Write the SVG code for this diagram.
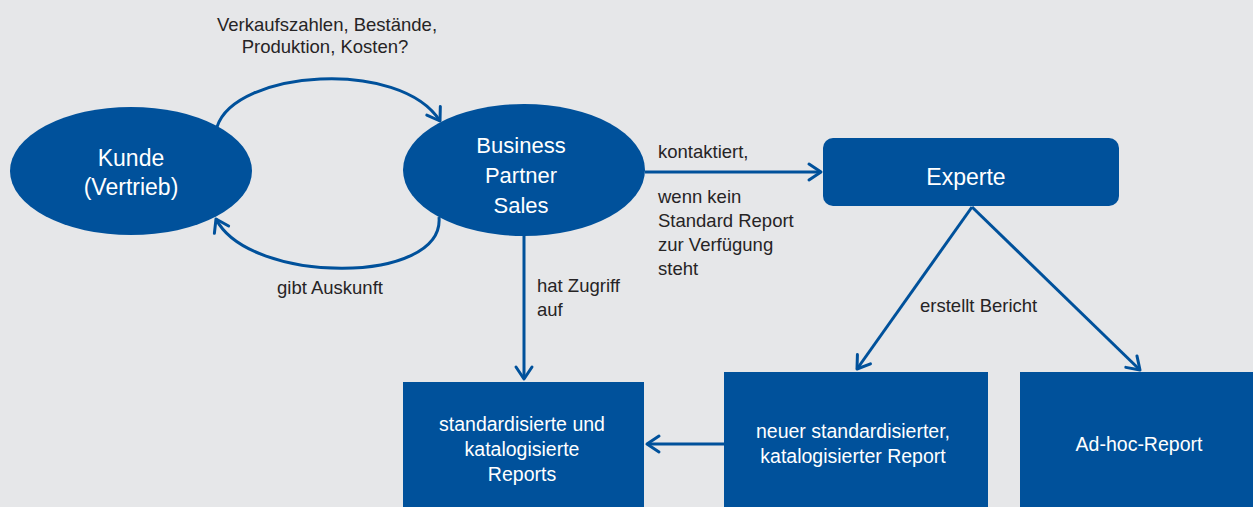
<svg xmlns="http://www.w3.org/2000/svg" width="1253" height="507" viewBox="0 0 1253 507">
  <style>
    .shape { fill: #00519b; }
    .wt { fill: #ffffff; font-family: "Liberation Sans", Arial, sans-serif; text-anchor: middle; }
    .lbl { fill: #262425; font-family: "Liberation Sans", Arial, sans-serif; font-size: 18.5px; }
    .conn { fill: none; stroke: #00519b; stroke-width: 3; }
  </style>
  <defs>
    <marker id="arrow" markerUnits="userSpaceOnUse" markerWidth="30" markerHeight="30" viewBox="-15 -15 30 30" refX="0" refY="0" orient="auto">
      <path d="M-12,-8 L0,0 L-12,8" fill="none" stroke="#00519b" stroke-width="3" stroke-linecap="round" stroke-linejoin="round"/>
    </marker>
  </defs>

  <rect width="1253" height="507" fill="#e6e7e9"/>

  <!-- connectors -->
  <g id="connectors">
    <path class="conn" d="M217,127 C235,70 400,58 440,121" marker-end="url(#arrow)"/>
    <path class="conn" d="M439,217 C445,285 250,285 216,219" marker-end="url(#arrow)"/>
    <path class="conn" d="M645,172 L821,172" marker-end="url(#arrow)"/>
    <path class="conn" d="M524,235 L524,379" marker-end="url(#arrow)"/>
    <path class="conn" d="M972,207 L857,369" marker-end="url(#arrow)"/>
    <path class="conn" d="M972,207 L1140,370" marker-end="url(#arrow)"/>
    <path class="conn" d="M725,444 L647,444" marker-end="url(#arrow)"/>
  </g>

  <!-- connector labels -->
  <g id="labels">
    <text class="lbl" x="327" y="31" text-anchor="middle">Verkaufszahlen, Bestände,</text>
    <text class="lbl" x="325" y="53" text-anchor="middle">Produktion, Kosten?</text>
    <text class="lbl" x="277" y="294">gibt Auskunft</text>
    <text class="lbl" x="658" y="158">kontaktiert,</text>
    <text class="lbl" x="658" y="203">wenn kein</text>
    <text class="lbl" x="658" y="227">Standard Report</text>
    <text class="lbl" x="658" y="251">zur Verfügung</text>
    <text class="lbl" x="658" y="275">steht</text>
    <text class="lbl" x="537" y="292">hat Zugriff</text>
    <text class="lbl" x="537" y="316">auf</text>
    <text class="lbl" x="920" y="312">erstellt Bericht</text>
  </g>

  <g id="kunde">
    <ellipse class="shape" cx="131" cy="171" rx="121" ry="64"/>
    <text class="wt" x="131" y="166" font-size="23">Kunde</text>
    <text class="wt" x="131" y="195" font-size="23">(Vertrieb)</text>
  </g>

  <g id="business-partner">
    <ellipse class="shape" cx="524" cy="170" rx="121" ry="66"/>
    <text class="wt" x="521" y="153" font-size="22">Business</text>
    <text class="wt" x="521" y="183" font-size="22">Partner</text>
    <text class="wt" x="521" y="213" font-size="22">Sales</text>
  </g>

  <g id="experte">
    <rect class="shape" x="823" y="138" width="296" height="68" rx="10"/>
    <text class="wt" x="966" y="185" font-size="23">Experte</text>
  </g>

  <g id="standard-reports">
    <rect class="shape" x="403" y="382" width="241" height="125"/>
    <text class="wt" x="522" y="431" font-size="19.5">standardisierte und</text>
    <text class="wt" x="522" y="456" font-size="19.5">katalogisierte</text>
    <text class="wt" x="522" y="481" font-size="19.5">Reports</text>
  </g>

  <g id="neuer-report">
    <rect class="shape" x="724" y="372" width="264" height="135"/>
    <text class="wt" x="853" y="438" font-size="19.5">neuer standardisierter,</text>
    <text class="wt" x="853" y="463" font-size="19.5">katalogisierter Report</text>
  </g>

  <g id="adhoc-report">
    <rect class="shape" x="1020" y="372" width="233" height="135"/>
    <text class="wt" x="1139" y="451" font-size="19.5">Ad-hoc-Report</text>
  </g>
</svg>
